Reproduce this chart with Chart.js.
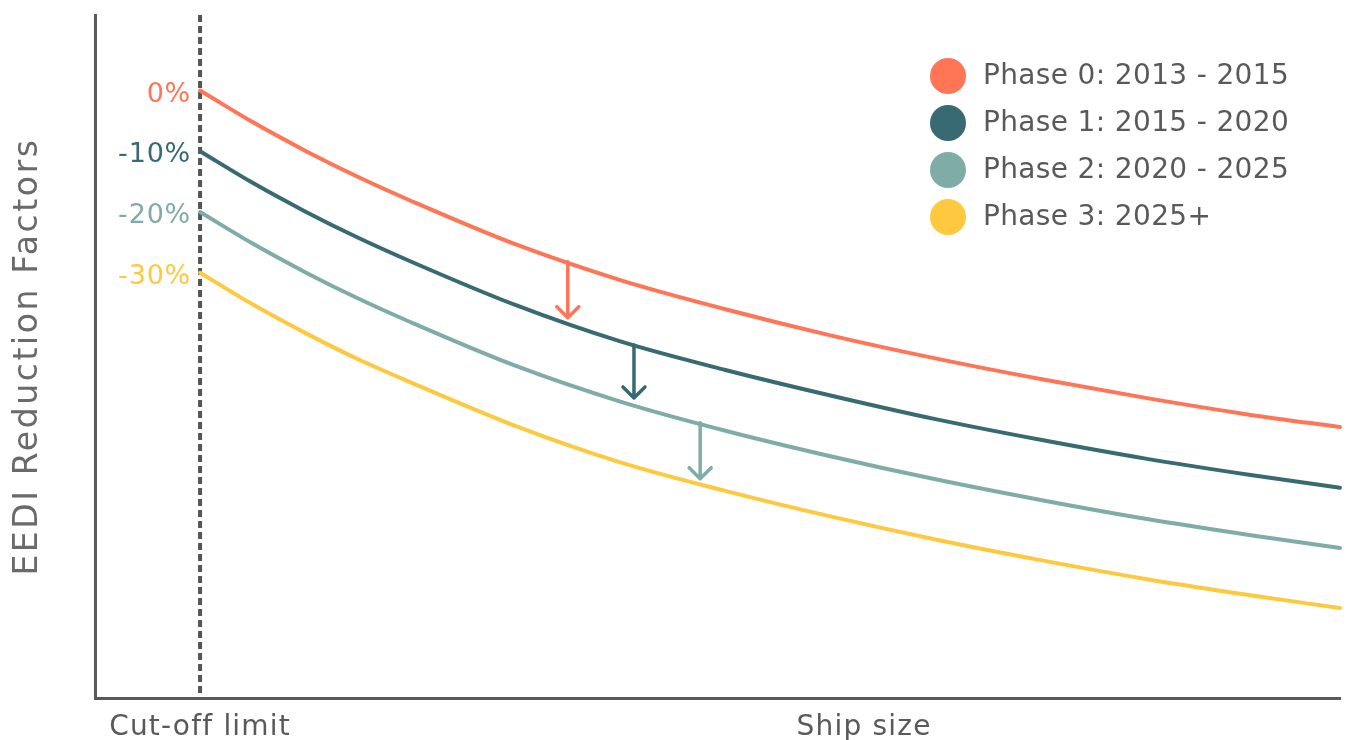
<!DOCTYPE html>
<html>
<head>
<meta charset="utf-8">
<title>EEDI Reduction Factors</title>
<script src="https://cdn.jsdelivr.net/npm/chart.js@4"></script>
<style>
  html, body { margin: 0; padding: 0; background: #ffffff; }
  #wrap { width: 1347px; height: 740px; }
</style>
</head>
<body>
<div id="wrap"><canvas id="chart" width="1347" height="740"></canvas></div>
<script>
// ship size (arbitrary units, cut-off limit at 10)
const shipSizes = [10, 15, 20, 25, 30, 40, 50, 60, 70, 80, 90, 100, 110, 118.5];

// reduction factor (%)
const phase0 = [0, -5.2, -9.9, -14.2, -18.1, -25.3, -31.2, -36.0, -40.3, -44.1, -47.5, -50.6, -53.4, -55.4];
const phase1 = [-10, -15.2, -19.9, -24.2, -28.1, -35.3, -41.3, -46.0, -50.2, -54.1, -57.5, -60.6, -63.3, -65.4];
const phase2 = [-20, -25.2, -29.9, -34.2, -38.1, -45.3, -51.2, -56.0, -60.2, -64.0, -67.4, -70.5, -73.2, -75.3];
const phase3 = [-30, -35.2, -39.9, -44.2, -48.0, -55.2, -61.2, -65.9, -70.1, -73.9, -77.3, -80.4, -83.1, -85.2];

const phaseLabels = ['Phase 0: 2013 - 2015', 'Phase 1: 2015 - 2020', 'Phase 2: 2020 - 2025', 'Phase 3: 2025+'];

// start-of-phase labels on the cut-off line
const yTickValues = [0, -10, -20, -30];
const yTickLabels = ['0%', '-10%', '-20%', '-30%'];
const yTitle = 'EEDI Reduction Factors';

// x axis labels
const cutoffSize = 10;
const xTickValues = [10, 73.2];
const xTickLabels = ['Cut-off limit', 'Ship size'];

// step-down arrows: size, from %, to %
const arrowSizes = [45, 51.3, 57.6];
const arrowFrom = [-28.2, -41.9, -54.7];
const arrowTo = [-37.4, -50.6, -63.9];

const colors = ['#FF7556', '#386A72', '#80ACA8', '#FEC93E'];
const textColor = '#595959';
const fontFamily = "'DejaVu Sans', Lato, sans-serif";

const toPoints = vals => vals.map((v, i) => ({ x: shipSizes[i], y: v }));

const extrasPlugin = {
    id: 'extras',
    beforeDraw(chart) {
        // a little tracking for the axis tick labels
        chart.ctx.letterSpacing = '1.2px';
    },
    beforeDatasetsDraw(chart) {
        const { ctx, chartArea, scales: { x } } = chart;
        const cx = x.getPixelForValue(cutoffSize);
        ctx.save();
        ctx.strokeStyle = '#555555';
        ctx.lineWidth = 4;
        ctx.setLineDash([7, 4]);
        ctx.beginPath();
        ctx.moveTo(cx, chartArea.top);
        ctx.lineTo(cx, chartArea.bottom);
        ctx.stroke();
        ctx.restore();
    },
    afterDatasetsDraw(chart) {
        const { ctx, chartArea, scales: { x, y } } = chart;
        ctx.save();

        // y axis title
        ctx.save();
        ctx.translate(28, (chartArea.top + chartArea.bottom) / 2);
        ctx.rotate(-Math.PI / 2);
        ctx.font = '400 33px ' + fontFamily;
        ctx.letterSpacing = '2.6px';
        ctx.fillStyle = '#6a6a6a';
        ctx.textAlign = 'center';
        ctx.textBaseline = 'middle';
        ctx.fillText(yTitle, 0, 0);
        ctx.restore();

        // percent labels
        const cx = x.getPixelForValue(cutoffSize);
        ctx.font = '400 27px ' + fontFamily;
        ctx.letterSpacing = '0.8px';
        ctx.textAlign = 'right';
        ctx.textBaseline = 'middle';
        yTickValues.forEach((v, i) => {
            ctx.fillStyle = colors[i];
            ctx.fillText(yTickLabels[i], cx - 9, y.getPixelForValue(v) + 4);
        });

        // arrows
        ctx.lineWidth = 3.5;
        ctx.lineCap = 'round';
        ctx.lineJoin = 'round';
        arrowSizes.forEach((s, i) => {
            const px = x.getPixelForValue(s);
            const y0 = y.getPixelForValue(arrowFrom[i]);
            const y1 = y.getPixelForValue(arrowTo[i]);
            ctx.strokeStyle = colors[i];
            ctx.beginPath();
            ctx.moveTo(px, y0);
            ctx.lineTo(px, y1);
            ctx.moveTo(px - 11, y1 - 11);
            ctx.lineTo(px, y1);
            ctx.lineTo(px + 11, y1 - 11);
            ctx.stroke();
        });

        // legend
        ctx.font = '400 28px ' + fontFamily;
        ctx.letterSpacing = '0.35px';
        ctx.textAlign = 'left';
        ctx.textBaseline = 'middle';
        chart.data.datasets.forEach((ds, i) => {
            const ly = 76 + i * 47;
            ctx.fillStyle = ds.borderColor;
            ctx.beginPath();
            ctx.arc(948, ly, 18, 0, Math.PI * 2);
            ctx.fill();
            ctx.fillStyle = textColor;
            ctx.fillText(ds.label, 983, ly + 1);
        });
        ctx.restore();
    }
};

new Chart(document.getElementById('chart'), {
    type: 'line',
    data: {
        datasets: [phase0, phase1, phase2, phase3].map((vals, i) => ({
            label: phaseLabels[i],
            data: toPoints(vals),
            borderColor: colors[i],
            backgroundColor: colors[i],
            borderWidth: 4,
            borderCapStyle: 'round',
            pointRadius: 0,
            cubicInterpolationMode: 'monotone',
            fill: false,
            clip: false
        }))
    },
    options: {
        responsive: false,
        animation: false,
        layout: { padding: { top: 15, right: 7, left: 0, bottom: 0 } },
        plugins: {
            legend: { display: false },
            tooltip: { enabled: false }
        },
        scales: {
            x: {
                type: 'linear',
                min: 0,
                max: 118.5,
                afterBuildTicks: s => { s.ticks = xTickValues.map(v => ({ value: v })); },
                ticks: {
                    callback: v => xTickLabels[xTickValues.indexOf(v)],
                    font: { family: fontFamily, size: 28 },
                    color: textColor,
                    padding: 13,
                    autoSkip: false,
                    maxRotation: 0
                },
                grid: { display: false, drawTicks: false },
                border: { display: true, color: '#5a5a5a', width: 3 },
                afterFit: s => { s.height = 42; }
            },
            y: {
                min: -100,
                max: 12.43,
                ticks: { display: false },
                grid: { display: false, drawTicks: false },
                border: { display: true, color: '#5a5a5a', width: 3 },
                afterFit: s => { s.width = 95; }
            }
        }
    },
    plugins: [extrasPlugin]
});
</script>
</body>
</html>
